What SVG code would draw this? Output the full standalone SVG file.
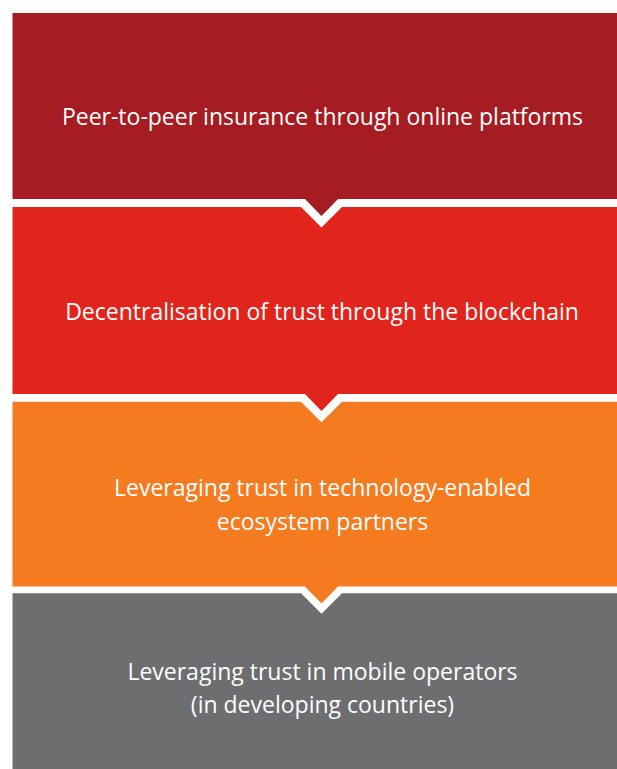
<svg xmlns="http://www.w3.org/2000/svg" width="617" height="769" viewBox="0 0 617 769">
<style>
text{font-family:"Open Sans","Noto Sans","Liberation Sans",sans-serif;font-size:23px;fill:#ffffff;text-anchor:middle}
</style>
<rect width="617" height="769" fill="#ffffff"/>
<g id="node-1">
<polygon points="12.5,13 630.5,13 630.5,199 338,199 321.5,216 305,199 12.5,199" fill="#A51D22"/>
<text x="322.5" y="124.5">Peer-to-peer insurance through online platforms</text>
</g>
<g id="node-2">
<polygon points="12.5,207 301,207 321.5,227.5 342,207 630.5,207 630.5,394 338,394 321.5,411 305,394 12.5,394" fill="#E2251C"/>
<text x="322" y="320">Decentralisation of trust through the blockchain</text>
</g>
<g id="node-3">
<polygon points="12.5,401.7 301,401.7 321.5,422.2 342,401.7 630.5,401.7 630.5,586.5 338,586.5 321.5,603.5 305,586.5 12.5,586.5" fill="#F47B20"/>
<text x="322.5" y="496">Leveraging trust in technology-enabled</text>
<text x="322.5" y="530">ecosystem partners</text>
</g>
<g id="node-4">
<polygon points="12.5,593.3 301,593.3 321.5,613.8 342,593.3 630.5,593.3 630.5,769 12.5,769" fill="#6D6E70"/>
<text x="322.5" y="680">Leveraging trust in mobile operators</text>
<text x="322.5" y="713">(in developing countries)</text>
</g>
<g id="connectors"/>
</svg>
